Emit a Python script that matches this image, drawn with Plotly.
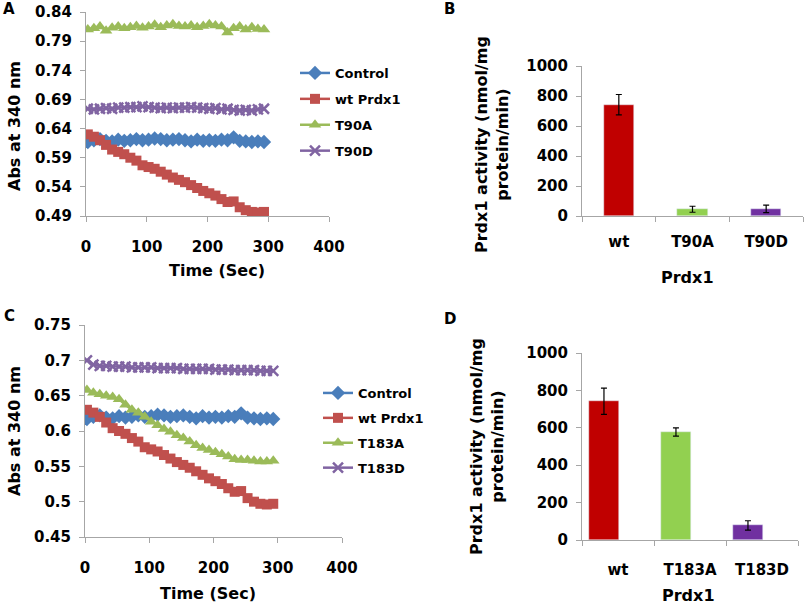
import plotly.graph_objects as go

# time points (sec) shared by both kinetic panels
times = [3, 13, 23, 33, 43, 53, 63, 73, 83, 93, 103, 113, 123, 133, 143,
         153, 163, 173, 183, 193, 203, 213, 223, 233, 243, 253, 263, 273, 283, 293]

control = [0.617, 0.620, 0.622, 0.619, 0.618, 0.621, 0.619, 0.620, 0.622, 0.620,
           0.621, 0.623, 0.622, 0.620, 0.621, 0.622, 0.620, 0.618, 0.621, 0.619,
           0.620, 0.619, 0.621, 0.620, 0.625, 0.619, 0.618, 0.617, 0.618, 0.617]
wt_prdx1 = [0.630, 0.626, 0.620, 0.612, 0.604, 0.600, 0.596, 0.590, 0.585, 0.577,
            0.574, 0.571, 0.566, 0.561, 0.556, 0.552, 0.548, 0.543, 0.538, 0.533,
            0.529, 0.525, 0.519, 0.514, 0.515, 0.505, 0.500, 0.497, 0.496, 0.497]
t90a = [0.810, 0.812, 0.815, 0.808, 0.813, 0.815, 0.812, 0.814, 0.816, 0.813,
        0.815, 0.818, 0.814, 0.817, 0.819, 0.816, 0.815, 0.817, 0.814, 0.816,
        0.819, 0.817, 0.815, 0.805, 0.812, 0.815, 0.810, 0.814, 0.811, 0.810]
t90d = [0.674, 0.673, 0.674, 0.675, 0.674, 0.676, 0.676, 0.677, 0.677, 0.678,
        0.677, 0.676, 0.675, 0.676, 0.675, 0.676, 0.676, 0.677, 0.676, 0.675,
        0.674, 0.675, 0.673, 0.674, 0.672, 0.671, 0.672, 0.671, 0.673, 0.674]
t183a = [0.658, 0.654, 0.652, 0.650, 0.648, 0.645, 0.637, 0.630, 0.626, 0.620,
         0.613, 0.608, 0.603, 0.599, 0.594, 0.590, 0.585, 0.580, 0.576, 0.573,
         0.570, 0.567, 0.564, 0.560, 0.559, 0.559, 0.558, 0.557, 0.557, 0.558]
t183d = [0.700, 0.694, 0.692, 0.692, 0.691, 0.691, 0.691, 0.690, 0.690, 0.690,
         0.690, 0.689, 0.689, 0.689, 0.689, 0.688, 0.688, 0.688, 0.688, 0.688,
         0.687, 0.687, 0.687, 0.686, 0.686, 0.686, 0.686, 0.685, 0.685, 0.685]

# activity bars
cats_b = ["wt", "T90A", "T90D"]
act_b = [742, 45, 48]
err_b = [68, 20, 25]
cats_d = ["wt", "T183A", "T183D"]
act_d = [742, 578, 78]
err_d = [70, 22, 25]

FONT = "DejaVu Sans"
AXIS_GREY = "#a6a6a6"
line_colors = ["#4a7ebb", "#c0504d", "#9bbb59", "#8064a2"]
bar_colors = ["#c00000", "#92d050", "#7030a0"]
symbols = ["diamond", "square", "triangle-up", "x-thin"]
sizes = [11, 10, 11, 10]

fig = go.Figure()

def add_lines(series, names, xa, ya, legend):
    for i, (ys, name) in enumerate(zip(series, names)):
        mk = dict(symbol=symbols[i], size=sizes[i], color=line_colors[i])
        if symbols[i] == "x-thin":
            mk["line"] = dict(width=2.5, color=line_colors[i])
        fig.add_trace(go.Scatter(
            x=times, y=ys, name=name, mode="lines+markers",
            line=dict(color=line_colors[i], width=2.5), marker=mk,
            xaxis=xa, yaxis=ya, legend=legend, legendgroup=legend + name))

add_lines([control, wt_prdx1, t90a, t90d], ["Control", "wt Prdx1", "T90A", "T90D"], "x", "y", "legend")
add_lines([control, wt_prdx1, t183a, t183d], ["Control", "wt Prdx1", "T183A", "T183D"], "x3", "y3", "legend2")

fig.add_trace(go.Bar(x=cats_b, y=act_b, marker_color=bar_colors, width=0.41,
                     error_y=dict(type="data", array=err_b, color="black", thickness=1.2, width=3),
                     xaxis="x2", yaxis="y2", showlegend=False))
fig.add_trace(go.Bar(x=cats_d, y=act_d, marker_color=bar_colors, width=0.41, offset=-0.40,
                     error_y=dict(type="data", array=err_d, color="black", thickness=1.2, width=3),
                     xaxis="x4", yaxis="y4", showlegend=False))

W, H = 805, 609
def px(x0, x1):
    return [x0 / W, x1 / W]
def py(bottom, top):
    return [1 - bottom / H, 1 - top / H]

tickfont = dict(family=FONT, size=15, color="black", weight="bold")
common = dict(showline=True, linecolor=AXIS_GREY, linewidth=1, showgrid=False, zeroline=False,
              ticks="outside", ticklen=5, tickcolor=AXIS_GREY, tickfont=tickfont,
              automargin=False)

fig.update_layout(
    width=W, height=H, margin=dict(l=0, r=0, t=0, b=0, autoexpand=False),
    paper_bgcolor="white", plot_bgcolor="white", bargap=0,
    xaxis=dict(domain=px(86, 329), range=[0, 400], dtick=100, anchor="y",
               ticklabelstandoff=12, **common),
    yaxis=dict(domain=py(216, 12), range=[0.49, 0.84], tick0=0.49, dtick=0.05, tickformat=".2f",
               anchor="x", ticklabelstandoff=5, **common),
    xaxis2=dict(domain=px(582, 803), range=[-0.5, 2.5], type="category", anchor="y2",
                tickson="boundaries", ticklabelstandoff=12, **common),
    yaxis2=dict(domain=py(216, 66), range=[0, 1000], dtick=200, anchor="x2",
                ticklabelstandoff=5, **common),
    xaxis3=dict(domain=px(85, 342), range=[0, 400], dtick=100, anchor="y3",
                ticklabelstandoff=12, **common),
    yaxis3=dict(domain=py(537, 325), range=[0.45, 0.75], dtick=0.05, anchor="x3",
                ticklabelstandoff=5, **common),
    xaxis4=dict(domain=px(582, 798), range=[-0.5, 2.5], type="category", anchor="y4",
                tickson="boundaries", ticklabelstandoff=16, **common),
    yaxis4=dict(domain=py(540, 353), range=[0, 1000], dtick=200, anchor="x4",
                ticklabelstandoff=5, **common),
    legend=dict(x=295 / W, y=1 - 58 / H, xanchor="left", yanchor="top", bgcolor="rgba(0,0,0,0)",
                font=dict(family=FONT, size=13, color="black", weight="bold"),
                tracegroupgap=6, itemwidth=30),
    legend2=dict(x=318 / W, y=1 - 378 / H, xanchor="left", yanchor="top", bgcolor="rgba(0,0,0,0)",
                 font=dict(family=FONT, size=13, color="black", weight="bold"),
                 tracegroupgap=5, itemwidth=30),
)

title_font = dict(family=FONT, size=16, color="black", weight="bold")
letter_font = dict(family=FONT, size=15, color="black", weight="bold")
annots = [
    dict(text="A", x=9, y=9, font=letter_font),
    dict(text="B", x=449, y=9, font=letter_font),
    dict(text="C", x=9, y=316, font=letter_font),
    dict(text="D", x=450, y=319, font=letter_font),
    dict(text="Abs at 340 nm", x=15, y=126, textangle=-90, font=title_font),
    dict(text="Abs at 340 nm", x=14, y=431, textangle=-90, font=title_font),
    dict(text="Time (Sec)", x=217, y=270, font=title_font),
    dict(text="Time (Sec)", x=208, y=593, font=title_font),
    dict(text="Prdx1 activity (nmol/mg<br>protein/min)", x=492, y=145, textangle=-90, font=title_font),
    dict(text="Prdx1 activity (nmol/mg<br>protein/min)", x=487, y=447, textangle=-90, font=title_font),
    dict(text="Prdx1", x=687, y=277, font=title_font),
    dict(text="Prdx1", x=688, y=595, font=title_font),
]
for a in annots:
    fig.add_annotation(text=a["text"], x=a["x"] / W, y=1 - a["y"] / H, xref="paper", yref="paper",
                       showarrow=False, xanchor="center", yanchor="middle",
                       textangle=a.get("textangle", 0), font=a["font"])

# drop the default page margin so the figure sits at the window's top-left
fig.write_html("out.html", config={"displayModeBar": False},
               post_script="document.body.style.margin='0px';")
